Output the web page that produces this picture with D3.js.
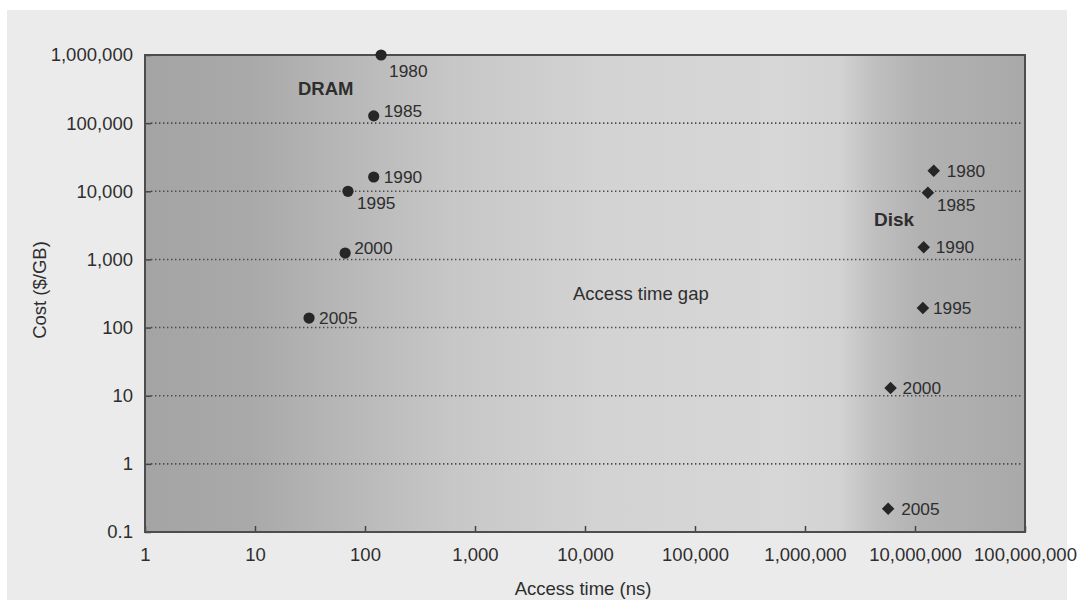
<!DOCTYPE html>
<html>
<head>
<meta charset="utf-8">
<script src="https://cdn.jsdelivr.net/npm/d3@7"></script>
<style>
  html, body { margin: 0; padding: 0; background: #ffffff; }
  svg { display: block; }
  text { font-family: "Liberation Sans", Arial, Helvetica, sans-serif; fill: #2e2e2e; }
</style>
</head>
<body>
<svg id="chart" width="1078" height="600"></svg>
<script>
// Cost per gigabyte versus access time for DRAM and magnetic disk, 1980-2005
const years = [1980, 1985, 1990, 1995, 2000, 2005];
const dramAccessNs = [140, 120, 120, 70, 66, 31];
const dramCostPerGB = [1000000, 128000, 16200, 10000, 1240, 138];
const diskAccessNs = [14800000, 13100000, 12000000, 11800000, 6000000, 5700000];
const diskCostPerGB = [20000, 9500, 1510, 194, 13, 0.22];

const xTickValues = [1, 10, 100, 1000, 10000, 100000, 1000000, 10000000, 100000000];
const xTickLabels = ["1", "10", "100", "1,000", "10,000", "100,000", "1,000,000", "10,000,000", "100,000,000"];
const yTickValues = [0.1, 1, 10, 100, 1000, 10000, 100000, 1000000];
const yTickLabels = ["0.1", "1", "10", "100", "1,000", "10,000", "100,000", "1,000,000"];

const svg = d3.select("#chart");
const plot = { left: 145, right: 1025, top: 55, bottom: 532 };
const tickFont = 18.5, labelFont = 17.3, titleFont = 18.5;

// light grey sheet behind everything
svg.append("rect").attr("x", 7).attr("y", 10).attr("width", 1060).attr("height", 590).attr("fill", "#ebebeb");

const x = d3.scaleLog().domain([1, 1e8]).range([plot.left, plot.right]);
const y = d3.scaleLog().domain([0.1, 1e6]).range([plot.bottom, plot.top]);

// horizontal shading of the plotting area
const defs = svg.append("defs");
const grad = defs.append("linearGradient").attr("id", "bgShade")
  .attr("x1", "0%").attr("x2", "100%").attr("y1", "0%").attr("y2", "0%");
[
  [0.00, "#a4a4a4"], [0.12, "#a9a9a9"], [0.21, "#b5b5b5"], [0.35, "#c7c7c7"],
  [0.52, "#d3d3d3"], [0.72, "#d7d7d7"], [0.79, "#d2d2d2"], [0.83, "#bfbfbf"],
  [0.88, "#b2b2b2"], [1.00, "#a9a9a9"]
].forEach(([o, c]) => grad.append("stop").attr("offset", o).attr("stop-color", c));

svg.append("rect")
  .attr("x", plot.left).attr("y", plot.top)
  .attr("width", plot.right - plot.left).attr("height", plot.bottom - plot.top)
  .attr("fill", "url(#bgShade)");

// dotted gridlines at each interior decade
svg.append("g").selectAll("line")
  .data(yTickValues.filter(v => v > 0.1 && v < 1e6))
  .join("line")
  .attr("x1", plot.left + 6).attr("x2", plot.right - 2)
  .attr("y1", d => y(d)).attr("y2", d => y(d))
  .attr("stroke", "#4a4a4a").attr("stroke-width", 1.6)
  .attr("stroke-dasharray", "1.4 2.6");

// axes with inward ticks
const xAxis = d3.axisBottom(x)
  .tickValues(xTickValues)
  .tickFormat((d, i) => xTickLabels[i])
  .tickSizeInner(-6).tickSizeOuter(0).tickPadding(16);
const gx = svg.append("g").attr("transform", `translate(0,${plot.bottom})`).call(xAxis);
gx.select(".domain").remove();
gx.selectAll(".tick line").attr("stroke", "#444").attr("stroke-width", 1.5);
gx.selectAll(".tick text").attr("font-size", tickFont).attr("fill", "#2e2e2e")
  .attr("font-family", "Liberation Sans, Arial, sans-serif");

const yAxis = d3.axisLeft(y)
  .tickValues(yTickValues)
  .tickFormat((d, i) => yTickLabels[i])
  .tickSizeInner(-6).tickSizeOuter(0).tickPadding(12);
const gy = svg.append("g").attr("transform", `translate(${plot.left},0)`).call(yAxis);
gy.select(".domain").remove();
gy.selectAll(".tick line").attr("stroke", "#444").attr("stroke-width", 1.5);
gy.selectAll(".tick text").attr("font-size", tickFont).attr("fill", "#2e2e2e")
  .attr("font-family", "Liberation Sans, Arial, sans-serif");

// frame
svg.append("rect")
  .attr("x", plot.left).attr("y", plot.top)
  .attr("width", plot.right - plot.left).attr("height", plot.bottom - plot.top)
  .attr("fill", "none").attr("stroke", "#4d4d4d").attr("stroke-width", 2);

// axis titles
svg.append("text")
  .attr("x", 583).attr("y", 595)
  .attr("text-anchor", "middle").attr("font-size", titleFont)
  .text("Access time (ns)");
svg.append("text")
  .attr("transform", "translate(46,290) rotate(-90)")
  .attr("text-anchor", "middle").attr("font-size", titleFont)
  .text("Cost ($/GB)");

// annotations
svg.append("text").attr("x", 298).attr("y", 95).attr("font-size", 18.5)
  .attr("font-weight", "bold").text("DRAM");
svg.append("text").attr("x", 874).attr("y", 226).attr("font-size", 19)
  .attr("font-weight", "bold").text("Disk");
svg.append("text").attr("x", 573).attr("y", 300).attr("font-size", 18.5)
  .text("Access time gap");

// year label placement relative to each marker
const dramLabelOffset = { 1980: [8, 16], 1985: [10, -5], 1990: [10, 0], 1995: [9, 12], 2000: [9, -5], 2005: [10, 0] };
const diskLabelOffset = { 1980: [13, 0], 1985: [9, 12], 1990: [12, 0], 1995: [10, 0], 2000: [12, 0], 2005: [13, 0] };

const dram = years.map((yr, i) => ({ year: yr, t: dramAccessNs[i], c: dramCostPerGB[i] }));
const disk = years.map((yr, i) => ({ year: yr, t: diskAccessNs[i], c: diskCostPerGB[i] }));

svg.append("g").selectAll("circle").data(dram).join("circle")
  .attr("cx", d => x(d.t)).attr("cy", d => y(d.c)).attr("r", 5.6)
  .attr("fill", "#262626");

svg.append("g").selectAll("path").data(disk).join("path")
  .attr("transform", d => `translate(${x(d.t)},${y(d.c)})`)
  .attr("d", d3.symbol().type(d3.symbolDiamond2).size(100))
  .attr("fill", "#262626");

svg.append("g").selectAll("text").data(dram).join("text")
  .attr("x", d => x(d.t) + dramLabelOffset[d.year][0])
  .attr("y", d => y(d.c) + dramLabelOffset[d.year][1])
  .attr("dy", "0.35em").attr("font-size", labelFont)
  .text(d => d.year);

svg.append("g").selectAll("text").data(disk).join("text")
  .attr("x", d => x(d.t) + diskLabelOffset[d.year][0])
  .attr("y", d => y(d.c) + diskLabelOffset[d.year][1])
  .attr("dy", "0.35em").attr("font-size", labelFont)
  .text(d => d.year);
</script>
</body>
</html>
